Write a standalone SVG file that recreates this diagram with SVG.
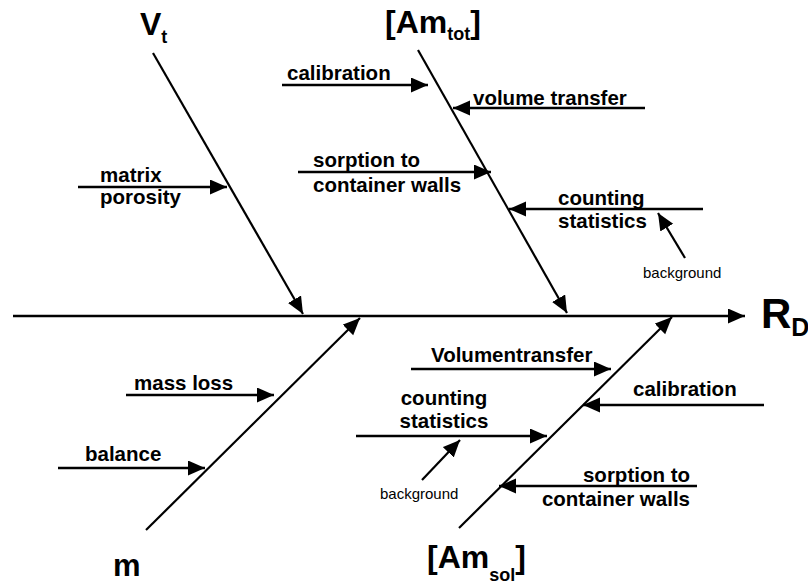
<svg xmlns="http://www.w3.org/2000/svg" width="808" height="585" viewBox="0 0 808 585">
<defs>
<marker id="ah" markerUnits="userSpaceOnUse" markerWidth="19" markerHeight="17" refX="17" refY="7.5" orient="auto">
<path d="M0,0 L17,7.5 L0,15 Z" fill="#000"/>
</marker>
<style>
.lbl{font-family:"Liberation Sans",Arial,sans-serif;font-weight:bold;font-size:20.5px;fill:#000}
.big{font-family:"Liberation Sans",Arial,sans-serif;font-weight:bold;font-size:32px;fill:#000}
.sub{font-size:18px}
.bg{font-family:"Liberation Sans",Arial,sans-serif;font-size:15px;fill:#000}
.ar{stroke:#000;stroke-width:2.5;fill:none;marker-end:url(#ah)}
.br{stroke:#000;stroke-width:2.2;fill:none;marker-end:url(#ah)}
.thin{stroke:#000;stroke-width:2.2;fill:none;marker-end:url(#ah)}
</style>
</defs>
<rect width="808" height="585" fill="#fff"/>
<g id="connectors">
<path class="ar" d="M13,316 H745"/>
<path class="br" d="M153,53 L303,314"/>
<path class="br" d="M418,50 L567,313"/>
<path class="br" d="M146,530 L360,318"/>
<path class="br" d="M459,528 L672,317"/>
<path class="ar" d="M78,187 H227"/>
<path class="ar" d="M282,85 H428"/>
<path class="ar" d="M645,108 H453"/>
<path class="ar" d="M298,172 H491"/>
<path class="ar" d="M703,209 H509"/>
<path class="thin" d="M685,258 L658,213"/>
<path class="ar" d="M126,395 H274"/>
<path class="ar" d="M58,468 H205"/>
<path class="ar" d="M411,369 H611"/>
<path class="ar" d="M764,405 H583"/>
<path class="ar" d="M356,436 H547"/>
<path class="thin" d="M422,480 L460,440"/>
<path class="ar" d="M697,486 H499"/>
</g>
<g id="node-Vt"><text class="big" x="140" y="35">V<tspan class="sub" dy="8">t</tspan></text></g>
<g id="node-Amtot"><text class="big" x="385" y="33">[Am<tspan class="sub" dy="7">tot</tspan><tspan dy="-7">]</tspan></text></g>
<g id="node-m"><text class="big" x="113" y="576" style="font-size:31px">m</text></g>
<g id="node-Amsol"><text class="big" x="427" y="568">[Am<tspan class="sub" dy="13">sol</tspan><tspan dy="-13">]</tspan></text></g>
<g id="node-RD"><text class="big" x="761" y="328" style="font-size:42px">R<tspan style="font-size:25px" dy="8">D</tspan></text></g>
<g id="cause-matrix-porosity"><text class="lbl" x="100" y="182">matrix</text><text class="lbl" x="100" y="204">porosity</text></g>
<g id="cause-calibration-tot"><text class="lbl" x="287" y="80">calibration</text></g>
<g id="cause-volume-transfer"><text class="lbl" x="473" y="105">volume transfer</text></g>
<g id="cause-sorption-tot"><text class="lbl" x="313" y="167">sorption to</text><text class="lbl" x="313" y="192">container walls</text></g>
<g id="cause-counting-tot"><text class="lbl" x="558" y="205">counting</text><text class="lbl" x="558" y="228">statistics</text></g>
<g id="cause-background-tot"><text class="bg" x="643" y="278">background</text></g>
<g id="cause-mass-loss"><text class="lbl" x="134" y="390">mass loss</text></g>
<g id="cause-balance"><text class="lbl" x="85" y="461">balance</text></g>
<g id="cause-volumentransfer"><text class="lbl" x="431" y="362">Volumentransfer</text></g>
<g id="cause-calibration-sol"><text class="lbl" x="633" y="396">calibration</text></g>
<g id="cause-counting-sol"><text class="lbl" x="444" y="405" text-anchor="middle">counting</text><text class="lbl" x="444" y="428" text-anchor="middle">statistics</text></g>
<g id="cause-background-sol"><text class="bg" x="380" y="499">background</text></g>
<g id="cause-sorption-sol"><text class="lbl" x="690" y="482" text-anchor="end">sorption to</text><text class="lbl" x="690" y="506" text-anchor="end">container walls</text></g>
</svg>
